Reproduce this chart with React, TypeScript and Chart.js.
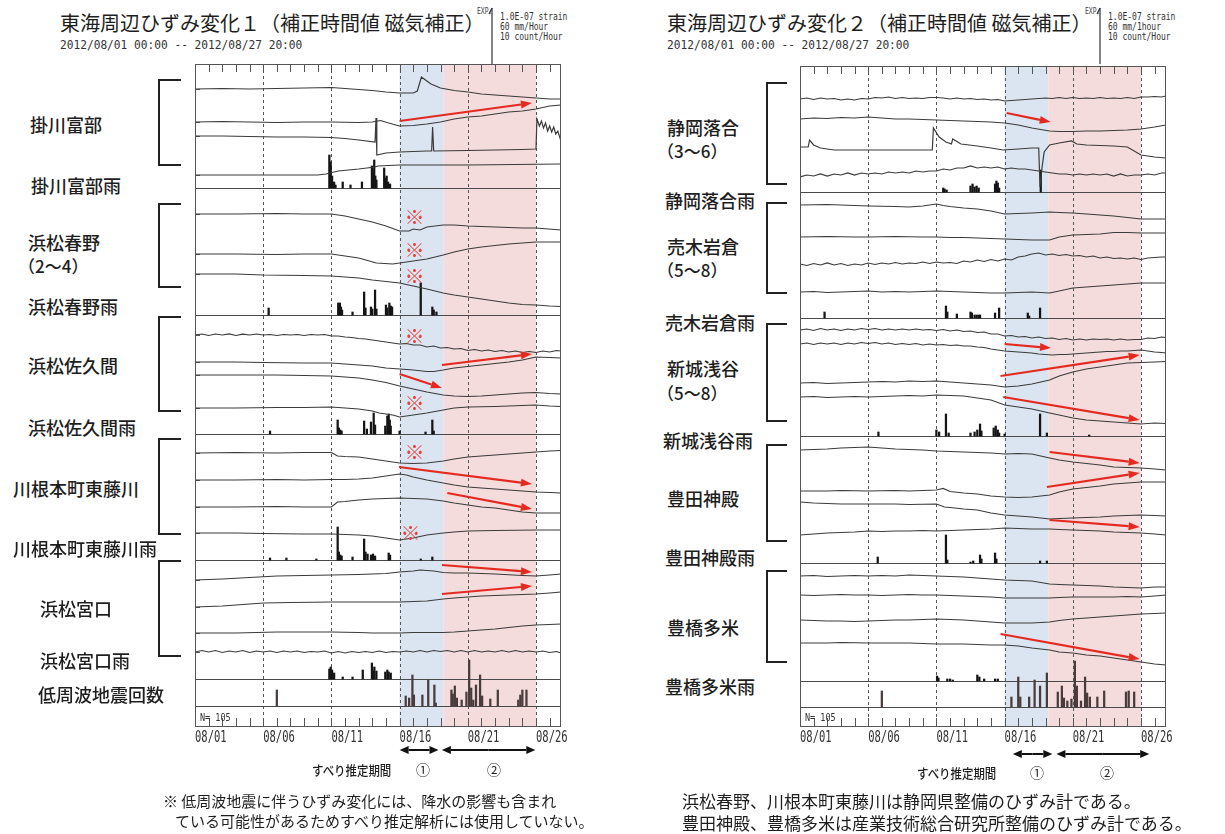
import React, { useEffect, useRef } from 'react';
import { Chart, registerables } from 'chart.js';

Chart.register(...registerables);

type Pt = [number, number];

// ---------- time axis (days since 2012/08/01 00:00) ----------
const END_DAY = 26.833; // 2012/08/27 20:00
const X_TICK_DAYS = [0, 5, 10, 15, 20, 25];
const X_TICK_LABELS = ['08/01', '08/06', '08/11', '08/16', '08/21', '08/26'];
const PERIOD_1: Pt = [15, 18.2];
const PERIOD_2: Pt = [18.2, 25];
const LFE_TOTAL_TEXT = 'N= 105';

// ---------- strain traces, left figure (units: 1/50 of 1.0E-07 strain, up positive) ----------
const KAKEGAWA_1: Pt[] = [[0,0],[2,0.5],[4,0],[6,0.5],[8,1],[10,1.5],[11,0.5],[12,-0.5],[13,-1.5],[14,-3],[15,-4],[16,-4],[16.3,-2],[16.6,12],[16.9,9],[17.3,5],[18,1],[19,-1.5],[20,-3],[21,-5],[22,-6],[23,-7],[24,-8],[25,-9],[26,-10],[26.83,-10]];
const KAKEGAWA_2: Pt[] = [[0,0],[2,0.5],[4,0],[6,-0.5],[8,0],[10,0],[12,-0.5],[13,0],[13.6,1.5],[14.2,-1],[15,-4],[16,-3.5],[17,-2],[18,0],[19,3],[20,5],[21,6],[22,8],[23,10],[24,11],[25,13],[26,16],[26.83,17]];
const KAKEGAWA_3: Pt[] = [[0,0],[2,0],[4,-0.5],[6,-1],[8,-1],[10,-1.5],[11,-2.5],[12,-4],[13.2,-6],[13.27,18],[13.33,-19],[14,-17],[15,-16],[17,-15],[17.35,-15],[17.42,9],[17.5,-15],[20,-14.5],[24,-13.5],[25,-13],[25.07,17],[25.25,10],[25.4,15],[25.55,8],[25.7,13],[25.85,5],[26,10],[26.15,4],[26.3,9],[26.45,2],[26.6,5],[26.83,-5]];
const KAKEGAWA_4: Pt[] = [[0,0],[3,0],[6,0],[9,0],[9.6,1],[10.5,4],[12,6],[13.2,8],[13.4,9],[15,10],[20,10],[26.83,11]];

const HARUNO_2: Pt[] = [[0,0],[3,0],[6,0.5],[8,0],[10,0],[11,-2],[12,-5],[13,-8],[14,-12],[15,-17],[15.7,-17],[16,-15],[16.5,-16],[17,-13],[18.2,-11],[19,-11],[20,-12],[22,-13],[24,-14],[25,-14],[26.83,-16]];
const HARUNO_3: Pt[] = [[0,0],[3,0],[6,-0.5],[8,0],[10,0],[11,-2],[12,-4],[13.3,-9],[14.5,-10],[15,-9],[16,-7],[17,-5],[18.2,-1],[19,2],[20,5],[21,7],[23,10],[25,12],[26.83,12]];
const HARUNO_4: Pt[] = [[0,0],[3,0],[5,-1],[8,-1.5],[10,-2],[12,-4],[13,-6],[14,-7.5],[15,-9],[16,-12],[17,-15],[18.2,-19],[19,-21],[20,-23],[21,-25],[22,-27],[23,-29],[24,-30.5],[25,-31],[26,-32],[26.83,-32.5]];

const SAKUMA_1: Pt[] = [[0,0],[0.5,1],[1,-0.5],[1.5,1],[2,0],[2.5,1.2],[3,-0.5],[3.5,0.8],[4,0],[4.5,1],[5,0],[5.5,0.5],[6,-0.5],[6.5,0.5],[7,0],[7.5,0.5],[8,-0.5],[8.5,0.5],[9,0],[9.5,0.5],[10,-1],[10.5,-1],[11,-2],[11.5,-2.5],[12,-3.5],[12.5,-4],[13,-5],[13.5,-6],[14,-7],[14.5,-8],[15,-9],[15.5,-8.5],[16,-10],[16.5,-10],[17,-12],[17.5,-11],[18,-13],[18.5,-12.5],[19,-14],[19.5,-13.5],[20,-15.5],[20.5,-14.5],[21,-16],[21.5,-15],[22,-16.5],[22.5,-15.5],[23,-17],[23.5,-16],[24,-17.5],[24.5,-16.5],[25,-17.5],[25.5,-16],[26,-17],[26.5,-15.5],[26.83,-16]];
const SAKUMA_2: Pt[] = [[0,0],[3,0],[5,-0.5],[8,-1],[10,-1],[11,-2],[12,-3],[13,-4],[14,-6],[15,-7],[16,-8],[17,-9.5],[17.5,-9.5],[18.2,-8],[19,-6],[20,-4.5],[21,-3],[22,-1.5],[23,0],[24,2],[25,5],[26,4.5],[26.83,4]];
const SAKUMA_3: Pt[] = [[0,0],[3,0],[6,0],[8,-0.5],[10,-1],[11,-2],[12,-3],[13,-5],[14,-7.5],[15,-11],[16,-14],[17,-17],[18.2,-20],[19,-21],[20,-21.5],[21,-21],[22,-20],[23,-19],[24,-18],[25,-17.5],[26,-18.5],[26.83,-19]];
const SAKUMA_4: Pt[] = [[0,0],[3,0],[6,0.5],[8,0.5],[10,1],[11,0],[12,-1],[13,-3],[13.5,-5],[14.5,-7],[15,-9],[16,-7],[17,-5],[18.2,-2],[19,0],[20,1],[22,1.5],[24,2.5],[25,3],[26,2],[26.83,1.5]];

const HIGASHIFUJIKAWA_1: Pt[] = [[0,0],[3,0.5],[6,0],[8,0.5],[10,0.5],[10.45,-3],[11,-3.5],[12,-4],[13,-6],[14,-8],[15,-10],[16,-10.5],[17,-10],[18.2,-8],[19,-6],[20,-4],[21,-3],[22,-2],[23,-1],[24,0],[25,1],[26,2],[26.83,2.5]];
const HIGASHIFUJIKAWA_2: Pt[] = [[0,0],[3,0],[6,0.5],[8,0],[10,0.5],[11,0.5],[12,1],[13,2],[14,4],[14.5,5],[15,6],[15.5,5],[16,3],[17,0],[18.2,-3],[19,-5],[20,-7],[21,-8],[22,-9],[23,-10],[24,-11],[25,-12],[26,-12.5],[26.83,-13]];
const HIGASHIFUJIKAWA_3: Pt[] = [[0,0],[3,0],[6,0.5],[8,0],[10,0],[10.45,5],[11,5.5],[12,7],[13,8],[14,8.5],[15,9],[16,8.5],[17,8],[18.2,6],[19,4],[20,2],[21,0],[22,-1],[23,-3],[24,-5],[25,-6],[26,-6],[26.83,-6]];
const HIGASHIFUJIKAWA_4: Pt[] = [[0,0],[3,0],[5,-0.5],[8,-1],[10,-1],[11,-1.5],[12,-2],[13,-3],[14,-5],[15,-7],[16,-5],[17,-2],[18.2,0],[19,1],[20,2],[22,2.5],[25,3],[26.83,3]];

const MIYAGUCHI_1: Pt[] = [[0,0],[2,1],[4,2.5],[6,4],[8,4.5],[10,5],[12,5.5],[13,6],[14,6.5],[15,8],[16,9],[16.5,10],[17.5,9],[18.2,7.5],[19,7],[20,7],[22,6],[24,4.5],[25,4],[26,5],[26.83,6]];
const MIYAGUCHI_2: Pt[] = [[0,0],[2,1],[3,2],[5,4],[7,4.5],[10,5],[12,5],[15,5],[16,5.5],[17,6],[18.2,8],[19,9],[20,10],[21,11],[22,11.5],[23,12],[24,12.5],[25,13],[26,14],[26.83,15]];
const MIYAGUCHI_3: Pt[] = [[0,0],[3,0],[6,1],[8,1],[10,1],[12,0.5],[13,0],[15,0],[16,0.5],[18.2,0.5],[19,1],[20,2],[21,3],[22,4],[23,5.5],[24,7],[25,8],[26,8.5],[26.83,9]];
const MIYAGUCHI_4: Pt[] = [[0,0],[0.5,1.5],[1,0],[1.5,1.5],[2,-0.5],[2.5,1],[3,0],[3.5,1.5],[4,-0.5],[4.5,1],[5,0],[5.5,1],[6,-0.5],[6.5,1],[7,0],[7.5,1],[8,-0.5],[8.5,0.5],[9,0],[9.5,1],[10,-1],[10.5,0.5],[11,-1],[11.5,0.5],[12,-0.5],[12.5,0.5],[13,-0.5],[13.5,1],[14,-0.5],[14.5,0.5],[15,0],[15.5,1],[16,0],[16.5,1.5],[17,0],[17.5,1.5],[18,0.5],[18.5,1.5],[19,0],[19.5,1.5],[20,0],[20.5,1.5],[21,0],[21.5,1],[22,0],[22.5,1.5],[23,0],[23.5,1.5],[24,0],[24.5,1],[25,0],[25.5,1],[26,-0.5],[26.5,0.5],[26.83,-1]];

// ---------- rain (mm/hour, scaled 1/50 of 60 mm) and low-frequency event counts ----------
const KAKEGAWA_RAIN: Pt[] = [[9.85,33],[9.95,26],[10.05,12],[10.2,6],[10.3,3],[10.83,6],[11.4,3],[12.24,6],[12.97,22],[13.05,16],[13.14,28],[13.22,12],[13.3,8],[13.87,20],[13.95,10],[14.05,12],[14.15,6],[14.3,4]];
const HARUNO_RAIN: Pt[] = [[5.4,7],[10.5,12],[10.55,10],[10.62,12],[10.7,8],[10.78,5],[11.55,3],[12.4,23],[12.5,7],[12.9,8],[13.0,6],[13.2,25],[13.3,6],[14.0,10],[14.1,7],[14.25,12],[14.35,9],[14.45,8],[16.55,32],[17.4,8],[17.5,5],[17.7,3]];
const SAKUMA_RAIN: Pt[] = [[5.5,3],[10.46,14],[10.55,6],[10.65,4],[10.75,3],[12.4,13],[12.6,5],[12.9,12],[13.1,21],[13.2,9],[13.95,8],[14.1,18],[14.2,20],[14.28,14],[14.35,8],[15.0,3],[16.9,2],[17.4,14],[17.5,3]];
const HIGASHIFUJIKAWA_RAIN: Pt[] = [[5.5,2],[6.7,2],[8.9,1],[10.46,33],[10.55,8],[10.65,5],[10.75,4],[11.55,3],[12.4,21],[12.5,8],[12.65,6],[12.9,5],[13.05,6],[13.2,4],[14.2,7],[14.3,5],[16.55,1],[17.4,3]];
const MIYAGUCHI_RAIN: Pt[] = [[9.85,10],[9.95,12],[10.05,9],[10.2,6],[10.83,2],[11.55,2],[12.3,9],[12.97,16],[13.05,8],[13.15,12],[13.3,8],[13.95,7],[14.1,9],[14.2,7],[14.35,6]];
const LFE_COUNT_LEFT: Pt[] = [[6.0,16],[15.45,10],[15.7,8],[15.94,31],[16.05,11],[16.67,11],[17.1,26],[17.55,21],[17.65,3],[18.8,16],[18.9,12],[19.05,20],[19.2,8],[19.55,6],[19.9,14],[20.1,46],[20.25,18],[20.4,6],[20.6,21],[20.9,31],[21.05,10],[21.65,7],[22.2,16],[23.7,6],[23.85,11],[24.0,16],[24.3,16]];

// ---------- strain traces, right figure ----------
const OCHIAI_3: Pt[] = [[0,0],[0.5,1],[1,-0.5],[1.5,1],[2,0],[2.5,0.5],[3,-1],[3.5,0],[4,-1],[4.5,0.5],[5,0],[5.5,1.5],[6,1],[6.5,2],[7,0.5],[7.5,1.5],[8,0.5],[8.5,1],[9,0.5],[9.5,1.5],[10,1.5],[10.5,1],[11,0],[11.5,1],[12,0],[12.5,0.5],[13,-0.5],[13.5,0],[14,-1],[14.5,-0.5],[15,-2],[15.5,-1.5],[16,-1],[16.5,-0.5],[17,0],[17.5,0.5],[18,1],[18.5,0.5],[19,1.5],[19.5,0.5],[20,1.5],[20.5,0.5],[21,1],[21.5,0.5],[22,1.5],[22.5,0.5],[23,1],[23.5,0.5],[24,1.5],[24.5,0.5],[25,2],[25.5,2],[26,2.5],[26.5,2],[26.83,3]];
const OCHIAI_4: Pt[] = [[0,0],[1,1],[2,0.5],[3,1.5],[4,1],[5,2],[6,1],[7,0],[8,0],[9,-0.5],[10,-1],[11,-1.5],[12,-2],[13,-2.5],[14,-3],[15,-4],[16,-6],[17,-9],[18.3,-12],[19,-12.5],[20,-12.5],[21,-12],[22,-12],[23,-11.5],[24,-11],[25,-10],[26,-8],[26.83,-6]];
const OCHIAI_5: Pt[] = [[0,0],[0.6,0],[0.7,7],[1.0,2],[1.5,-1],[2.5,-3],[4,-3],[6,-3],[8,-3],[9.7,-3],[9.78,19],[10.2,10],[10.7,5],[11.1,3],[11.2,8],[11.8,3],[13,1],[14,-1],[14.9,-3],[16,-2],[17,-1],[17.5,-1],[17.6,-40],[17.75,-20],[17.9,-5],[18.3,2],[19,4],[19.9,6],[20.3,3],[21,2],[22,1.5],[23,1],[24,0],[25,-8],[26,-10],[26.83,-11]];
const OCHIAI_6: Pt[] = [[0,0],[0.5,2],[1,1],[1.5,3],[2,1],[2.5,3],[3,2],[3.5,4],[4,2],[4.5,4],[5,3],[5.5,4],[6,3],[6.5,5],[7,4],[7.5,5],[8,4],[8.5,6],[9,5],[9.5,6],[10,6],[10.5,8],[11,7],[11.5,9],[12,9],[12.5,11],[13,9],[13.5,10],[14,9],[14.5,10],[15,8],[15.5,9],[16,8],[16.5,8],[17,7],[17.5,6],[18,5],[18.5,4],[19,3],[19.5,3],[20,2],[20.5,3],[21,2],[21.5,3],[22,2],[22.5,3],[23,1],[23.5,3],[24,1],[24.5,2],[25,2],[25.5,3],[26,2],[26.5,4],[26.83,4]];

const URUGI_5: Pt[] = [[0,0],[2,0.5],[3,0],[5,-1],[7,-1.5],[8,-2],[9,-1],[10,1],[10.5,-0.5],[11,-1.5],[12,-3],[13,-4],[14,-6],[15,-9],[16,-8.5],[17,-8],[18.3,-7],[19,-7.5],[20,-8],[21,-9],[22,-10],[23,-11],[24,-12.5],[25,-14],[26,-14],[26.83,-14]];
const URUGI_6: Pt[] = [[0,0],[2,0.5],[4,0],[5,0],[7,0.5],[9,0],[10,0],[11,-0.5],[12,-0.5],[13,-1],[14,-1.5],[15,-2],[16,-2.5],[17,-3],[18.3,-3],[19,0],[20,2],[21,2.5],[22,3],[23,4.5],[24,4.5],[25,4],[26,4],[26.83,4]];
const URUGI_7: Pt[] = [[0,0],[0.5,-1.5],[1,0.5],[1.5,-1],[2,1],[2.5,-1],[3,0.5],[3.5,-1.5],[4,0],[4.5,-1],[5,1],[5.5,-0.5],[6,1],[6.5,0],[7,1.5],[7.5,0],[8,1],[8.5,0.5],[9,2],[9.5,0.5],[10,2],[10.5,1],[11,1.5],[11.5,0.5],[12,3],[12.5,2],[13,4],[13.5,2.5],[14,4.5],[14.5,3],[15,5],[15.5,4],[16,7],[16.5,8],[17,10],[17.5,11],[18,9],[18.5,10],[19,8.5],[19.5,9.5],[20,8],[20.5,8.5],[21,7],[21.5,8],[22,6],[22.5,7],[23,5.5],[23.5,6],[24,5],[24.5,6],[25,4.5],[25.5,6],[26,6.5],[26.5,7],[26.83,7]];
const URUGI_8: Pt[] = [[0,0],[1,0.5],[2,-0.5],[3,0],[4,0.5],[5,1],[6,0],[7,0.5],[8,0],[9,0.5],[10,1],[11,0.5],[12,0],[13,-0.5],[14,-1],[15,-1],[16,-0.5],[17,0],[18.3,-1],[19,1],[20,4],[21,5],[22,6],[23,7],[24,8],[25,9],[26,9],[26.83,9]];

const ASAYA_5: Pt[] = [[0,0],[0.5,1],[1,-0.5],[1.5,1.5],[2,0],[2.5,1],[3,-0.5],[3.5,1],[4,0],[4.5,1.5],[5,0.5],[5.5,1.5],[6,0],[6.5,1],[7,0],[7.5,1],[8,0],[8.5,1],[9,0],[9.5,0.5],[10,-0.5],[10.5,0.5],[11,-1],[11.5,0],[12,-1.5],[12.5,-1],[13,-2.5],[13.5,-2],[14,-4],[14.5,-4],[15,-6],[15.5,-5.5],[16,-7],[16.5,-6.5],[17,-8],[17.5,-7],[18,-8.5],[18.5,-8],[19,-9.5],[19.5,-8.5],[20,-10],[20.5,-9],[21,-10],[21.5,-9],[22,-9.5],[22.5,-9],[23,-10],[23.5,-9],[24,-10],[24.5,-9.5],[25,-9.5],[25.5,-8],[26,-8.5],[26.5,-7],[26.83,-7.5]];
const ASAYA_6: Pt[] = [[0,0],[0.5,1],[1,-0.5],[1.5,1],[2,0],[2.5,1],[3,-0.5],[3.5,1],[4,0],[4.5,1.5],[5,0.5],[5.5,1.5],[6,0],[6.5,1],[7,-0.5],[7.5,0.5],[8,-0.5],[8.5,0.5],[9,-1],[9.5,0],[10,-1],[10.5,-0.5],[11,-1.5],[11.5,-1],[12,-2],[12.5,-2],[13,-3],[13.5,-3.5],[14,-5],[14.5,-6],[15,-7],[15.5,-7.5],[16,-8],[16.5,-8.5],[17,-9],[17.5,-10],[18,-10.5],[18.5,-11],[19,-10.5],[19.5,-10.5],[20,-10],[20.5,-9.5],[21,-9],[21.5,-8.5],[22,-8],[22.5,-7.5],[23,-7.5],[23.5,-7],[24,-7],[24.5,-6.5],[25,-6],[25.5,-7],[26,-8],[26.5,-8.5],[26.83,-9]];
const ASAYA_7: Pt[] = [[0,0],[1,0.5],[2,-0.5],[3,0],[4,0.5],[5,1],[6,1.5],[7,1],[8,2],[9,1.5],[10,2],[11,1],[12,0],[13,-1],[14,-2],[15,-4],[16,-3],[17,-1],[18.3,3],[19,7],[20,11],[21,14],[22,16],[23,18],[24,20],[25,20.5],[26,21],[26.83,21.5]];
const ASAYA_8: Pt[] = [[0,0],[1,0.5],[2,-0.5],[3,0],[4,0.5],[5,0],[6,0.5],[7,1],[8,1.5],[9,1],[10,2],[11,1.5],[12,1],[13,-1],[14,-3],[15,-8],[16,-10],[17,-12],[18.3,-16],[19,-18],[20,-21],[21,-23],[22,-24],[23,-25],[24,-26],[25,-27],[26,-26],[26.83,-26.5]];

const TONODO_1: Pt[] = [[0,0],[1,0.5],[2,1],[3,2],[4,2.5],[5,3],[6,2],[7,1],[8,0.5],[9,0],[10,-1],[11,-1.5],[12,-2],[13,-2.5],[14,-3],[15,-4],[16,-3.5],[17,-4],[18.3,-8],[19,-10],[20,-12],[21,-13.5],[22,-15],[23,-17],[24,-17.5],[25,-18],[26,-19],[26.83,-20]];
const TONODO_2: Pt[] = [[0,0],[2,0],[3,0.5],[5,0],[7,0.5],[8,0],[9,0.5],[10,1],[10.5,2.5],[11,-0.5],[12,-2],[13,-3],[14,-5],[15,-6],[16,-6.5],[17,-6],[18.3,-4],[19,-1],[20,2],[21,3.5],[22,5],[23,7],[24,8],[25,9],[26,9],[26.83,9]];
const TONODO_3: Pt[] = [[0,0],[1,-1],[2,-1.5],[3,-2],[5,-2],[7,-2],[8,-2.5],[10,-2],[10.6,-5],[11,-5.5],[12,-7],[13,-8],[14,-11],[15,-13],[16,-14],[17,-15],[18.3,-17],[19,-16.5],[20,-16],[21,-15.5],[22,-15],[23,-14],[24,-13.5],[25,-13],[26,-13.5],[26.83,-14]];
const TONODO_4: Pt[] = [[0,0],[1,1],[2,2],[3,2.5],[4,3],[5,4],[6,3.5],[7,4],[8,4],[9,4.5],[10,4],[11,4.5],[12,5],[13,5.5],[14,6],[15,7],[16,6.5],[17,6],[18.3,6],[19,5.5],[20,5],[21,4.5],[22,4],[23,3],[24,2.5],[25,2],[26,1],[26.83,0]];

const TAME_1: Pt[] = [[0,0],[1,0.5],[2,-0.5],[3,0],[4,0.5],[5,0],[6,0.5],[7,0],[8,1],[9,0.5],[10,0],[11,-0.5],[12,-1],[13,-2],[14,-3],[15,-4],[16,-4.5],[17,-5],[18.3,-8],[19,-8.5],[20,-9],[21,-9.5],[22,-10],[23,-11],[24,-11.5],[25,-12],[26,-11],[26.83,-11]];
const TAME_2: Pt[] = [[0,0],[1,-0.5],[2,0],[3,0.5],[4,0],[5,0],[6,-0.5],[7,0],[8,0.5],[9,0],[10,0],[11,-0.5],[12,-1],[13,-1.5],[14,-2],[15,-3],[16,-3],[17,-3],[18.3,-3],[19,-2.5],[20,-2],[21,-2],[22,-2],[23,-2],[24,-1.5],[25,-2],[26,-1],[26.83,0]];
const TAME_3: Pt[] = [[0,0],[1,-0.5],[2,-1],[3,-1],[4,-1.5],[5,-1],[6,-0.5],[7,0],[8,0],[9,0.5],[10,1],[11,0.5],[12,0],[13,-1],[14,-2],[15,-3],[16,-3],[17,-3],[18.3,-2],[19,-0.5],[20,1],[21,2],[22,3],[23,4],[24,5],[25,6],[26,6.5],[26.83,7]];
const TAME_4: Pt[] = [[0,0],[2,0],[3,0.5],[5,0],[7,0],[8,0],[10,-1],[12,-1],[14,-2],[15,-2],[16,-3],[17,-5],[18.3,-7],[19,-9],[20,-10],[21,-12],[22,-13],[23,-15],[24,-17],[25,-19],[26,-21],[26.83,-22]];

const OCHIAI_RAIN: Pt[] = [[10.5,4],[10.6,3],[10.75,2],[12.5,6],[12.65,8],[12.8,5],[12.95,6],[13.1,4],[14.3,8],[14.4,11],[14.5,9],[14.6,4],[17.65,22]];
const URUGI_RAIN: Pt[] = [[1.8,6],[10.7,12],[10.8,6],[11.5,4],[12.5,6],[12.6,5],[12.8,3],[12.95,3],[13.1,3],[13.2,3],[14.3,5],[14.6,10],[16.7,5],[16.8,2],[17.6,10]];
const ASAYA_RAIN: Pt[] = [[5.75,4],[10.0,6],[10.2,4],[10.7,22],[10.9,3],[12.5,3],[12.8,4],[13.0,6],[13.2,12],[13.3,5],[14.2,8],[14.35,10],[14.5,6],[14.6,3],[15.0,2],[17.6,22],[18.1,3],[21.2,1]];
const TONODO_RAIN: Pt[] = [[5.7,6],[10.7,28],[10.8,3],[12.5,1],[12.7,2],[13.2,8],[13.3,4],[14.3,10],[14.4,4],[17.6,2],[18.1,2]];
const TAME_RAIN: Pt[] = [[10.05,5],[10.15,3],[10.8,2],[11.0,2],[11.2,1],[13.0,6],[13.15,4],[13.5,2],[14.3,2],[14.5,2]];
const LFE_COUNT_RIGHT: Pt[] = [[6.0,16],[15.5,10],[16.0,30],[16.15,10],[16.8,10],[17.2,27],[17.6,21],[18.1,34],[18.9,15],[19.2,21],[19.35,9],[19.6,6],[19.9,8],[20.15,46],[20.3,21],[20.6,6],[20.9,30],[21.05,14],[21.25,10],[21.8,10],[22.3,16],[23.9,15],[24.1,16],[24.5,15]];

// ---------- text ----------
const LEFT_LABELS = ['掛川富部', '掛川富部雨', '浜松春野', '（2～4）', '浜松春野雨', '浜松佐久間', '浜松佐久間雨', '川根本町東藤川', '川根本町東藤川雨', '浜松宮口', '浜松宮口雨', '低周波地震回数'];
const RIGHT_LABELS = ['静岡落合', '（3～6）', '静岡落合雨', '売木岩倉', '（5～8）', '売木岩倉雨', '新城浅谷', '（5～8）', '新城浅谷雨', '豊田神殿', '豊田神殿雨', '豊橋多米', '豊橋多米雨'];

// ---------- layout (positions only) ----------
const LEFT_LABEL_POS: Pt[] = [[30,124],[31,185],[28,242],[18,265],[28,306],[28,365],[28,427],[13,488],[13,548],[40,608],[40,660],[38,694]];
const RIGHT_LABEL_POS: Pt[] = [[667,127],[657,150],[665,200],[667,246],[657,269],[665,322],[667,368],[657,392],[663,440],[667,498],[665,557],[667,627],[665,686]];
const LEFT_BRACKETS: Pt[] = [[79,166],[203,288],[316,412],[438,535],[560,657]];
const RIGHT_BRACKETS: Pt[] = [[82,185],[202,294],[323,422],[444,542],[570,663]];

const TRACE_COLOR = '#3b3b3b';
const RAIN_COLOR = '#151515';
const LFE_COLOR = '#4a3c3c';
const BLUE = '#dbe5f1';
const PINK = '#f3dcdb';
const RED = '#e42a20';
const CJK = '"Noto Sans CJK JP", "Noto Sans", sans-serif';
const MONO = '"DejaVu Sans Mono", "Liberation Mono", monospace';

interface PanelCfg {
  canvas: { left: number; top: number; width: number; height: number };
  area: { left: number; top: number; width: number; height: number };
  traces: { row: number; data: Pt[] }[];
  bars: { base: number; data: Pt[]; color: string }[];
  separators: number[];
  arrows: number[][];
  marks: Pt[];
  periodArrows: Pt[];
  periodArrowDy: number;
  rowTicks: boolean;
}

const LEFT_PANEL: PanelCfg = {
  canvas: { left: 150, top: 50, width: 440, height: 740 },
  area: { left: 195, top: 64, width: 366, height: 663 },
  traces: [
    { row: 89, data: KAKEGAWA_1 }, { row: 122, data: KAKEGAWA_2 }, { row: 136, data: KAKEGAWA_3 }, { row: 175, data: KAKEGAWA_4 },
    { row: 214, data: HARUNO_2 }, { row: 254, data: HARUNO_3 }, { row: 274, data: HARUNO_4 },
    { row: 335, data: SAKUMA_1 }, { row: 362, data: SAKUMA_2 }, { row: 375, data: SAKUMA_3 }, { row: 408, data: SAKUMA_4 },
    { row: 453, data: HIGASHIFUJIKAWA_1 }, { row: 480, data: HIGASHIFUJIKAWA_2 }, { row: 507, data: HIGASHIFUJIKAWA_3 }, { row: 533, data: HIGASHIFUJIKAWA_4 },
    { row: 580, data: MIYAGUCHI_1 }, { row: 607, data: MIYAGUCHI_2 }, { row: 633, data: MIYAGUCHI_3 }, { row: 652, data: MIYAGUCHI_4 },
  ],
  bars: [
    { base: 188, data: KAKEGAWA_RAIN, color: RAIN_COLOR },
    { base: 315, data: HARUNO_RAIN, color: RAIN_COLOR },
    { base: 434, data: SAKUMA_RAIN, color: RAIN_COLOR },
    { base: 560, data: HIGASHIFUJIKAWA_RAIN, color: RAIN_COLOR },
    { base: 679, data: MIYAGUCHI_RAIN, color: RAIN_COLOR },
    { base: 706, data: LFE_COUNT_LEFT, color: LFE_COLOR },
  ],
  separators: [188, 315, 434, 560, 679, 706],
  arrows: [[15.0,121,24.7,103],[18.1,365,24.7,354],[15.0,374,18.1,388],[14.95,467,24.7,484],[18.5,493,24.7,509],[18.1,565,24.7,572],[18.1,594,24.7,586]],
  marks: [[16.1,217],[16.1,250],[16.1,276],[16.1,336],[16.1,403],[16.1,452],[15.8,533]],
  periodArrows: [[15, 17.85], [18.1, 24.95]],
  periodArrowDy: 23,
  rowTicks: true,
};

const RIGHT_PANEL: PanelCfg = {
  canvas: { left: 755, top: 52, width: 440, height: 738 },
  area: { left: 800, top: 66, width: 366, height: 661 },
  traces: [
    { row: 99, data: OCHIAI_3 }, { row: 119, data: OCHIAI_4 }, { row: 147, data: OCHIAI_5 }, { row: 177, data: OCHIAI_6 },
    { row: 205, data: URUGI_5 }, { row: 237, data: URUGI_6 }, { row: 264, data: URUGI_7 }, { row: 292, data: URUGI_8 },
    { row: 330, data: ASAYA_5 }, { row: 344, data: ASAYA_6 }, { row: 383, data: ASAYA_7 }, { row: 397, data: ASAYA_8 },
    { row: 450, data: TONODO_1 }, { row: 491, data: TONODO_2 }, { row: 502, data: TONODO_3 }, { row: 535, data: TONODO_4 },
    { row: 576, data: TAME_1 }, { row: 595, data: TAME_2 }, { row: 620, data: TAME_3 }, { row: 643, data: TAME_4 },
  ],
  bars: [
    { base: 192, data: OCHIAI_RAIN, color: RAIN_COLOR },
    { base: 318, data: URUGI_RAIN, color: RAIN_COLOR },
    { base: 436, data: ASAYA_RAIN, color: RAIN_COLOR },
    { base: 563, data: TONODO_RAIN, color: RAIN_COLOR },
    { base: 681, data: TAME_RAIN, color: RAIN_COLOR },
    { base: 707, data: LFE_COUNT_RIGHT, color: LFE_COLOR },
  ],
  separators: [192, 318, 436, 563, 681, 707],
  arrows: [[15.15,113,18.38,122],[15.0,344,18.4,348],[14.7,376,24.9,355],[14.9,397,24.9,420],[18.3,452,24.9,463],[18.1,487,24.9,473],[18.3,520,24.9,527],[14.7,634,24.9,659]],
  marks: [],
  periodArrows: [[15.6, 18.5], [18.8, 25.6]],
  periodArrowDy: 27,
  rowTicks: false,
};

function drawArrowHead(ctx: CanvasRenderingContext2D, x0: number, y0: number, x1: number, y1: number, len: number, wid: number) {
  const ang = Math.atan2(y1 - y0, x1 - x0);
  const bx = x1 - len * Math.cos(ang);
  const by = y1 - len * Math.sin(ang);
  ctx.beginPath();
  ctx.moveTo(x0, y0);
  ctx.lineTo(bx, by);
  ctx.stroke();
  ctx.beginPath();
  ctx.moveTo(x1, y1);
  ctx.lineTo(bx + (wid / 2) * Math.sin(ang), by - (wid / 2) * Math.cos(ang));
  ctx.lineTo(bx - (wid / 2) * Math.sin(ang), by + (wid / 2) * Math.cos(ang));
  ctx.closePath();
  ctx.fill();
}

function makeDecor(p: PanelCfg) {
  return {
    id: 'panelDecor',
    beforeDatasetsDraw(chart: any) {
      const { ctx, chartArea: a, scales } = chart;
      const X = (d: number) => scales.x.getPixelForValue(d);
      const Y = (r: number) => scales.y.getPixelForValue(r);
      ctx.save();
      ctx.fillStyle = BLUE;
      ctx.fillRect(X(PERIOD_1[0]), a.top, X(PERIOD_1[1]) - X(PERIOD_1[0]), a.bottom - a.top);
      ctx.fillStyle = PINK;
      ctx.fillRect(X(PERIOD_2[0]), a.top, X(PERIOD_2[1]) - X(PERIOD_2[0]), a.bottom - a.top);
      const line = (x0: number, y0: number, x1: number, y1: number) => {
        ctx.beginPath(); ctx.moveTo(x0, y0); ctx.lineTo(x1, y1); ctx.stroke();
      };
      ctx.strokeStyle = '#555';
      ctx.lineWidth = 1;
      ctx.setLineDash([3, 3]);
      X_TICK_DAYS.slice(1).forEach((d) => {
        const px = Math.round(X(d)) + 0.5;
        line(px, a.top, px, a.bottom);
      });
      ctx.setLineDash([]);
      ctx.strokeStyle = '#4a4a4a';
      p.separators.forEach((r) => {
        const py = Math.round(Y(r)) + 0.5;
        line(a.left, py, a.right, py);
      });
      ctx.strokeStyle = '#555';
      for (let d = 1; d <= 26; d++) {
        const px = Math.round(X(d)) + 0.5;
        line(px, a.top, px, a.top + 8);
        line(px, a.bottom - 9, px, a.bottom);
      }
      if (p.rowTicks) {
        p.traces.forEach((t) => {
          const py = Math.round(Y(t.row)) + 0.5;
          line(a.left, py, a.left + 5, py);
        });
      }
      ctx.restore();
    },
    afterDatasetsDraw(chart: any) {
      const { ctx, chartArea: a, scales } = chart;
      const X = (d: number) => scales.x.getPixelForValue(d);
      const Y = (r: number) => scales.y.getPixelForValue(r);
      ctx.save();
      ctx.strokeStyle = RED;
      ctx.fillStyle = RED;
      ctx.lineWidth = 2.2;
      p.arrows.forEach(([d0, r0, d1, r1]) => drawArrowHead(ctx, X(d0), Y(r0), X(d1), Y(r1), 11, 8));
      ctx.font = `500 20px ${CJK}`;
      ctx.textAlign = 'center';
      ctx.textBaseline = 'middle';
      ctx.fillStyle = '#e8403a';
      p.marks.forEach(([d, r]) => ctx.fillText('※', X(d), Y(r)));
      ctx.strokeStyle = '#555';
      ctx.lineWidth = 1;
      ctx.strokeRect(Math.round(a.left) + 0.5, Math.round(a.top) + 0.5, Math.round(a.right - a.left) - 1, Math.round(a.bottom - a.top) - 1);
      ctx.fillStyle = '#333';
      ctx.textAlign = 'left';
      ctx.font = `15px ${MONO}`;
      X_TICK_DAYS.forEach((d, i) => {
        ctx.save();
        ctx.translate(X(d), a.bottom + 11);
        ctx.scale(0.7, 1);
        ctx.fillText(X_TICK_LABELS[i], 0, 0);
        ctx.restore();
      });
      ctx.font = `10px ${MONO}`;
      ctx.save();
      ctx.translate(a.left + 5, a.bottom - 9);
      ctx.scale(0.85, 1);
      ctx.fillText(LFE_TOTAL_TEXT, 0, 0);
      ctx.restore();
      ctx.strokeStyle = '#111';
      ctx.fillStyle = '#111';
      ctx.lineWidth = 2;
      const yy = a.bottom + p.periodArrowDy;
      p.periodArrows.forEach(([d0, d1]) => {
        const x0 = X(d0), x1 = X(d1), xm = (x0 + x1) / 2;
        drawArrowHead(ctx, xm, yy, x0, yy, 9, 8);
        drawArrowHead(ctx, xm, yy, x1, yy, 9, 8);
      });
      ctx.restore();
    },
  };
}

function PanelChart({ cfg }: { cfg: PanelCfg }) {
  const ref = useRef<HTMLCanvasElement>(null);
  useEffect(() => {
    const canvas = ref.current;
    if (!canvas) return;
    const datasets: any[] = [];
    cfg.traces.forEach((t) =>
      datasets.push({
        type: 'line',
        data: t.data.map(([d, v]) => ({ x: d, y: t.row - v })),
        borderColor: TRACE_COLOR,
        borderWidth: 1.2,
        pointRadius: 0,
        tension: 0,
        fill: false,
      })
    );
    cfg.bars.forEach((b) =>
      datasets.push({
        type: 'bar',
        data: b.data.map(([d, h]) => ({ x: d, y: [b.base, b.base - h] })),
        backgroundColor: b.color,
        barThickness: 1.6,
        grouped: false,
        borderWidth: 0,
      })
    );
    const c = cfg.canvas, ar = cfg.area;
    const chart = new Chart(canvas, {
      type: 'line',
      data: { datasets },
      options: {
        responsive: false,
        animation: false,
        devicePixelRatio: 1,
        events: [],
        layout: {
          padding: {
            left: ar.left - c.left,
            top: ar.top - c.top,
            right: c.left + c.width - (ar.left + ar.width),
            bottom: c.top + c.height - (ar.top + ar.height),
          },
        },
        plugins: { legend: { display: false }, tooltip: { enabled: false } },
        scales: {
          x: { type: 'linear', min: 0, max: END_DAY, display: false, offset: false, grid: { offset: false } },
          y: { type: 'linear', min: ar.top, max: ar.top + ar.height, reverse: true, display: false },
        },
      } as any,
      plugins: [makeDecor(cfg)],
    });
    return () => chart.destroy();
  }, [cfg]);
  return (
    <canvas
      ref={ref}
      width={cfg.canvas.width}
      height={cfg.canvas.height}
      style={{ position: 'absolute', left: cfg.canvas.left, top: cfg.canvas.top, width: cfg.canvas.width, height: cfg.canvas.height }}
    />
  );
}

function T(props: { x: number; y: number; size: number; family?: string; sx?: number; weight?: number; color?: string; children: React.ReactNode }) {
  const { x, y, size, family = CJK, sx = 1, weight = 400, color = '#1e1e1e', children } = props;
  return (
    <div
      style={{
        position: 'absolute', left: x, top: y, fontSize: size, lineHeight: 1, fontFamily: family, fontWeight: weight, color,
        whiteSpace: 'nowrap', transform: `translateY(-50%) scaleX(${sx})`, transformOrigin: 'left center',
      }}
    >
      {children}
    </div>
  );
}

function Bracket({ x, w, y0, y1 }: { x: number; w: number; y0: number; y1: number }) {
  return (
    <div style={{ position: 'absolute', left: x, top: y0, width: w, height: y1 - y0, borderLeft: '2px solid #222', borderTop: '2px solid #222', borderBottom: '2px solid #222', boxSizing: 'border-box' }} />
  );
}

function Header({ x, title, rainUnit, expX, arrowX }: { x: number; title: string; rainUnit: string; expX: number; arrowX: number }) {
  return (
    <>
      <T x={x} y={23} size={20}>{title}</T>
      <T x={x} y={44} size={13} family={MONO} sx={0.86} color="#333">2012/08/01 00:00 -- 2012/08/27 20:00</T>
      <T x={expX} y={12} size={8} family={MONO} sx={0.8} color="#444">EXP.</T>
      <svg style={{ position: 'absolute', left: arrowX - 6, top: 4, width: 12, height: 62 }}>
        <line x1={6} y1={4} x2={6} y2={60} stroke="#333" strokeWidth={1.2} />
        <path d="M6 4 L3 10" stroke="#333" strokeWidth={1.2} fill="none" />
      </svg>
      <T x={arrowX + 8} y={17} size={10} family={MONO} sx={0.8} color="#333">1.0E-07 strain</T>
      <T x={arrowX + 8} y={27} size={10} family={MONO} sx={0.8} color="#333">{rainUnit}</T>
      <T x={arrowX + 8} y={37} size={10} family={MONO} sx={0.8} color="#333">10 count/Hour</T>
    </>
  );
}

export default function App() {
  return (
    <div style={{ position: 'absolute', left: 0, top: 0, width: 1225, height: 834, background: '#fff', overflow: 'hidden' }}>
      <Header x={60} title="東海周辺ひずみ変化１（補正時間値 磁気補正）" rainUnit="60 mm/Hour" expX={477} arrowX={492} />
      <Header x={667} title="東海周辺ひずみ変化２（補正時間値 磁気補正）" rainUnit="60 mm/1hour" expX={1085} arrowX={1100} />

      <PanelChart cfg={LEFT_PANEL} />
      <PanelChart cfg={RIGHT_PANEL} />

      {LEFT_LABELS.map((s, i) => (
        <T key={'l' + i} x={LEFT_LABEL_POS[i][0]} y={LEFT_LABEL_POS[i][1]} size={s.startsWith('（') ? 17 : 18} weight={500}>{s}</T>
      ))}
      {RIGHT_LABELS.map((s, i) => (
        <T key={'r' + i} x={RIGHT_LABEL_POS[i][0]} y={RIGHT_LABEL_POS[i][1]} size={s.startsWith('（') ? 17 : 18} weight={500}>{s}</T>
      ))}
      {LEFT_BRACKETS.map(([a, b], i) => <Bracket key={'lb' + i} x={158} w={23} y0={a} y1={b} />)}
      {RIGHT_BRACKETS.map(([a, b], i) => <Bracket key={'rb' + i} x={766} w={21} y0={a} y1={b} />)}

      <T x={312} y={769} size={13} sx={0.88} weight={500}>すべり推定期間</T>
      <T x={416} y={769} size={14}>①</T>
      <T x={487} y={769} size={14}>②</T>
      <T x={917} y={772} size={13} sx={0.88} weight={500}>すべり推定期間</T>
      <T x={1030} y={772} size={14}>①</T>
      <T x={1100} y={772} size={14}>②</T>

      <T x={163} y={800} size={15}>※ 低周波地震に伴うひずみ変化には、降水の影響も含まれ</T>
      <T x={175} y={820} size={15}>ている可能性があるためすべり推定解析には使用していない。</T>
      <T x={682} y={800} size={17}>浜松春野、川根本町東藤川は静岡県整備のひずみ計である。</T>
      <T x={682} y={822} size={17}>豊田神殿、豊橋多米は産業技術総合研究所整備のひずみ計である。</T>
    </div>
  );
}
